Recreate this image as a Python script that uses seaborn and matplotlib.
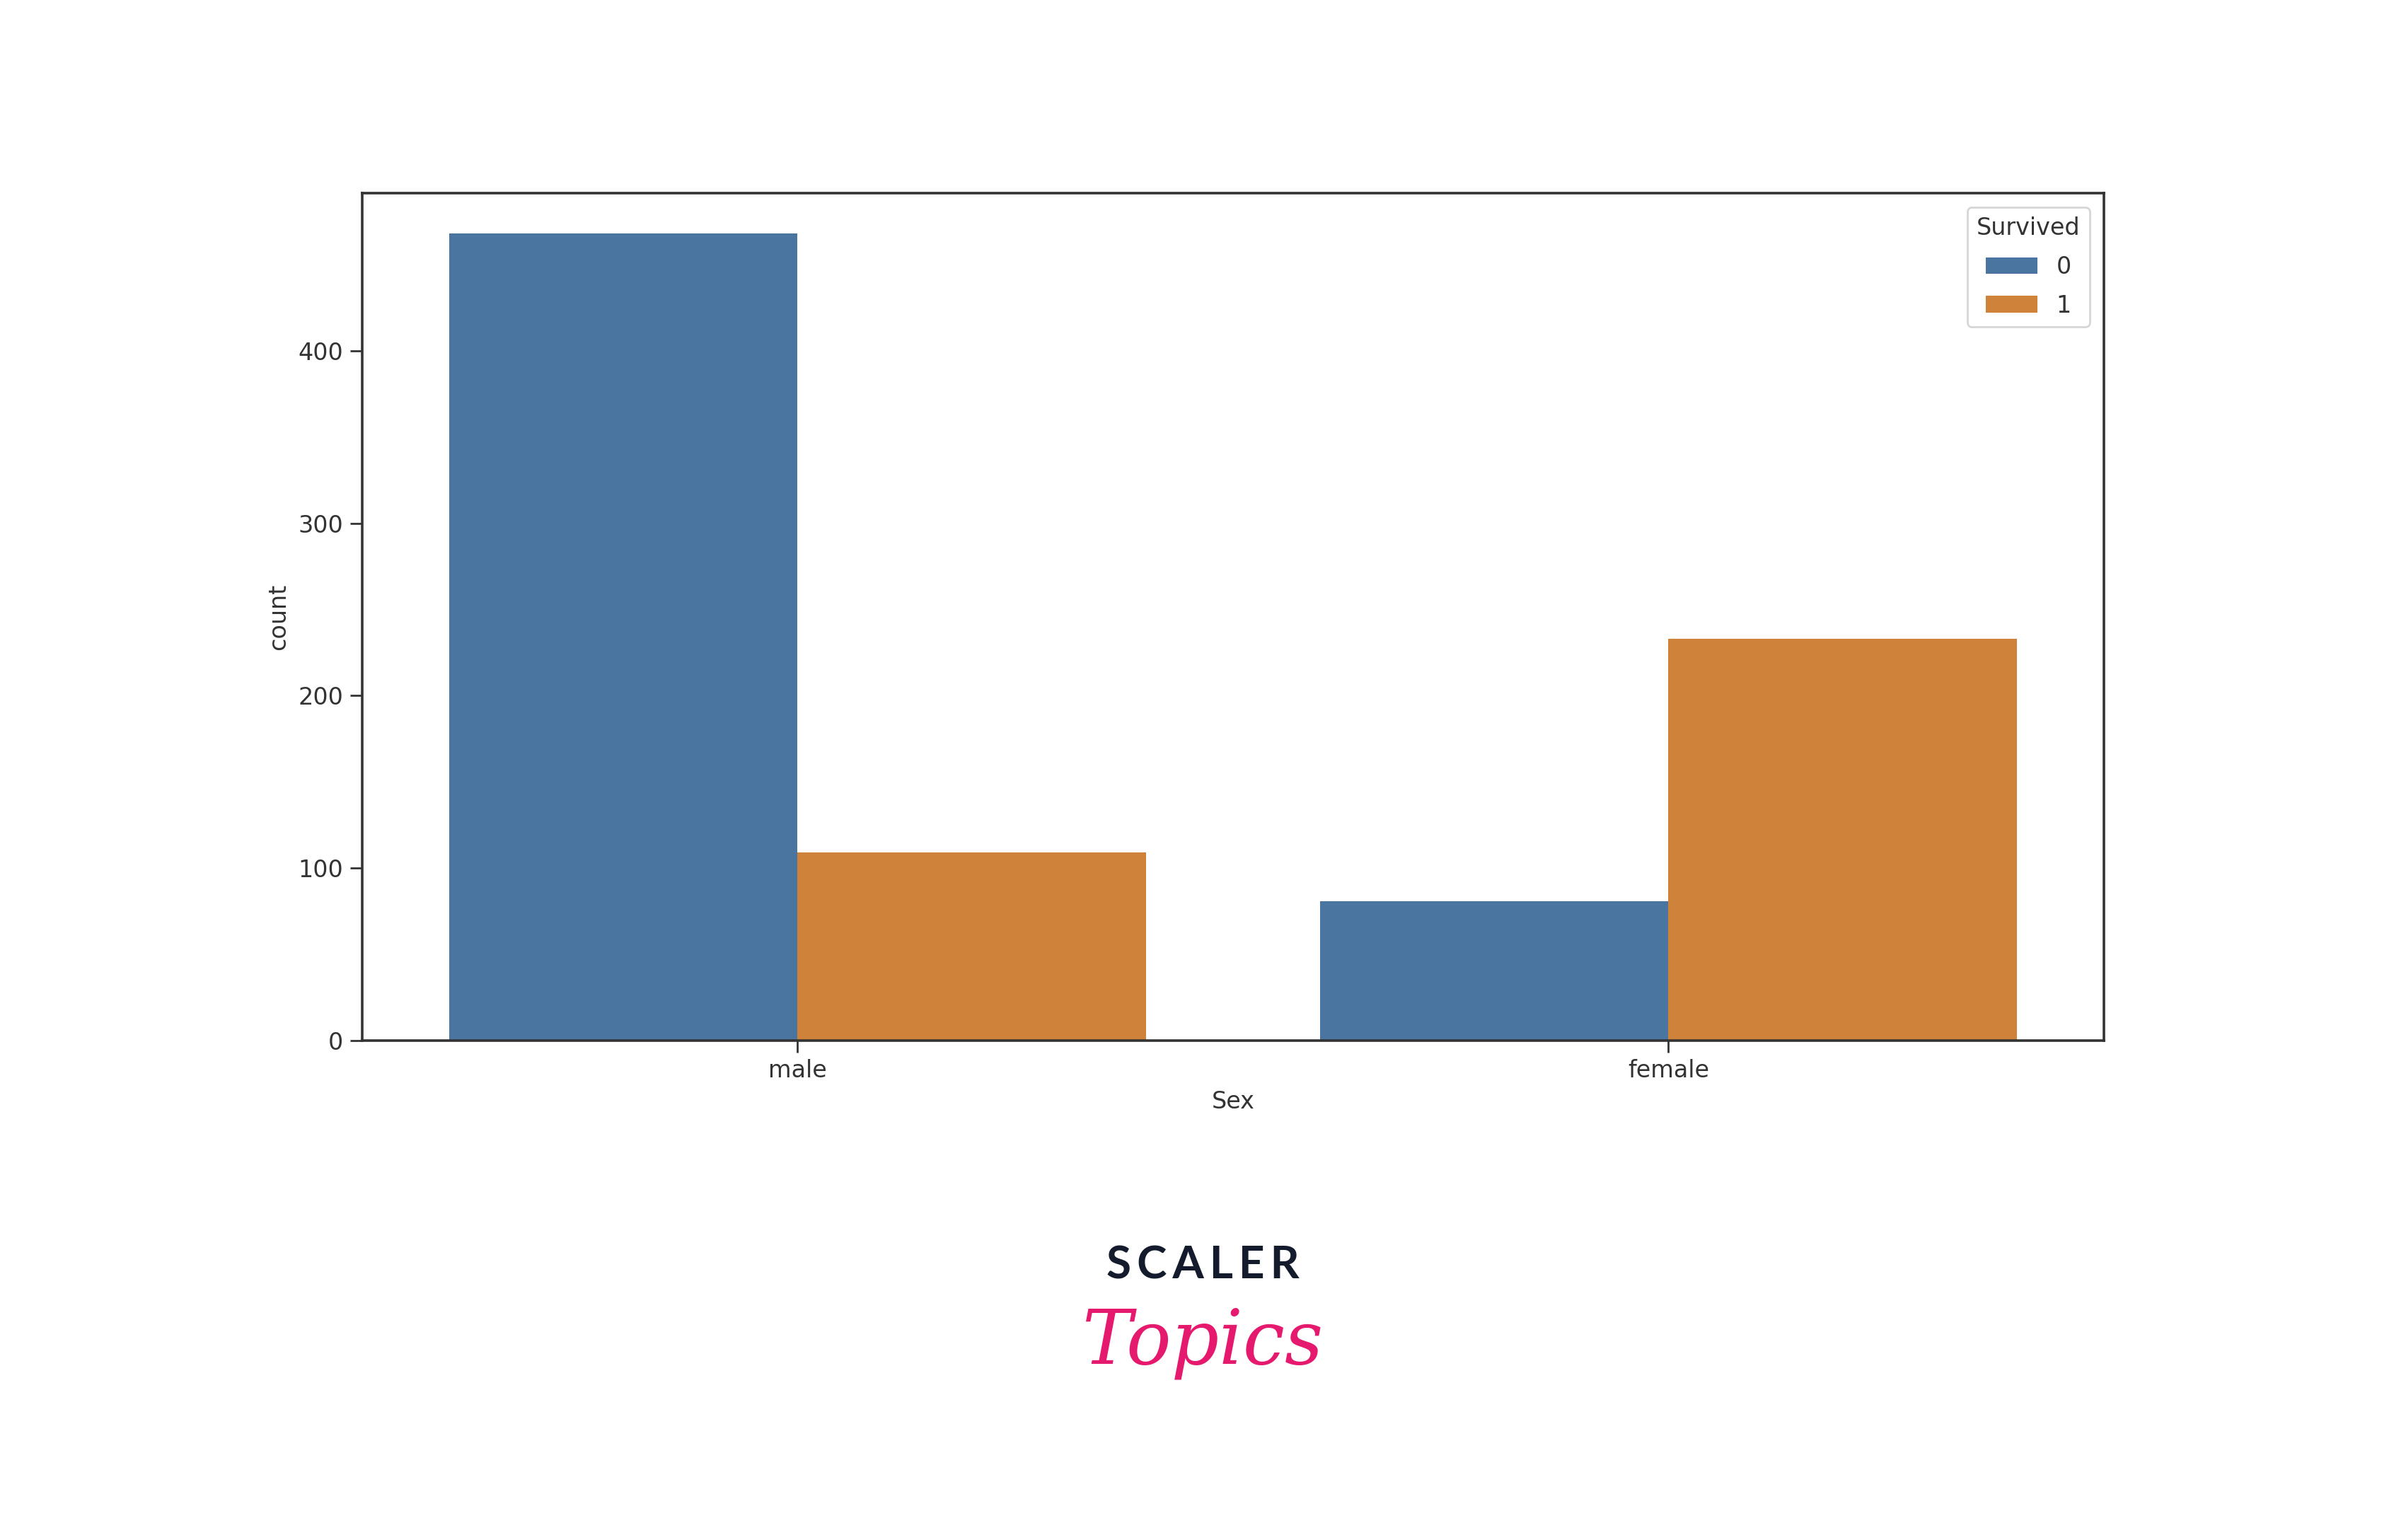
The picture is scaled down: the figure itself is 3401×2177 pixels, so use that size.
import matplotlib
matplotlib.use("Agg")
import matplotlib.pyplot as plt
import seaborn as sns
import pandas as pd

# Titanic counts by sex and survival
sex = ["male", "male", "female", "female"]
survived = ["0", "1", "0", "1"]
counts = [468, 109, 81, 233]

colors = ["#4a75a0", "#cf833a"]

df = pd.DataFrame({"Sex": sex, "Survived": survived, "count": counts})

plt.rcParams["font.family"] = ["DejaVu Sans"]
fs = 12

fig = plt.figure(figsize=(3401 / 200, 2177 / 200), dpi=200)
ax = fig.add_axes([0.1505, 0.3243, 0.7239, 0.5503])

sns.barplot(data=df, x="Sex", y="count", hue="Survived",
            palette=colors, saturation=1, ax=ax, errorbar=None)

for s in ax.spines.values():
    s.set_color("#333333")
    s.set_linewidth(1.3)
ax.tick_params(colors="#333333", labelcolor="#333333", labelsize=fs,
               length=6, width=1.0)
ax.set_xlabel("Sex", color="#333333", fontsize=fs)
ax.set_ylabel("count", color="#333333", fontsize=fs)

leg = ax.legend(title="Survived", loc="upper right", fontsize=fs,
                title_fontsize=fs, labelspacing=0.65, handlelength=2.2,
                borderaxespad=0.6)
leg.get_title().set_color("#333333")
for t in leg.get_texts():
    t.set_color("#333333")

# logo text
fig.text(0.5, 0.178, "S\u2009C\u2009A\u2009L\u2009E\u2009R", ha="center", va="center",
         fontsize=23, fontweight="bold", color="#141b2d",
         family=["Lato", "DejaVu Sans"])
fig.text(0.5, 0.128, "Topics", ha="center", va="center",
         fontsize=38, style="italic", color="#e5196d",
         family="DejaVu Serif")

fig.savefig("out.png", dpi=200, facecolor="white")
